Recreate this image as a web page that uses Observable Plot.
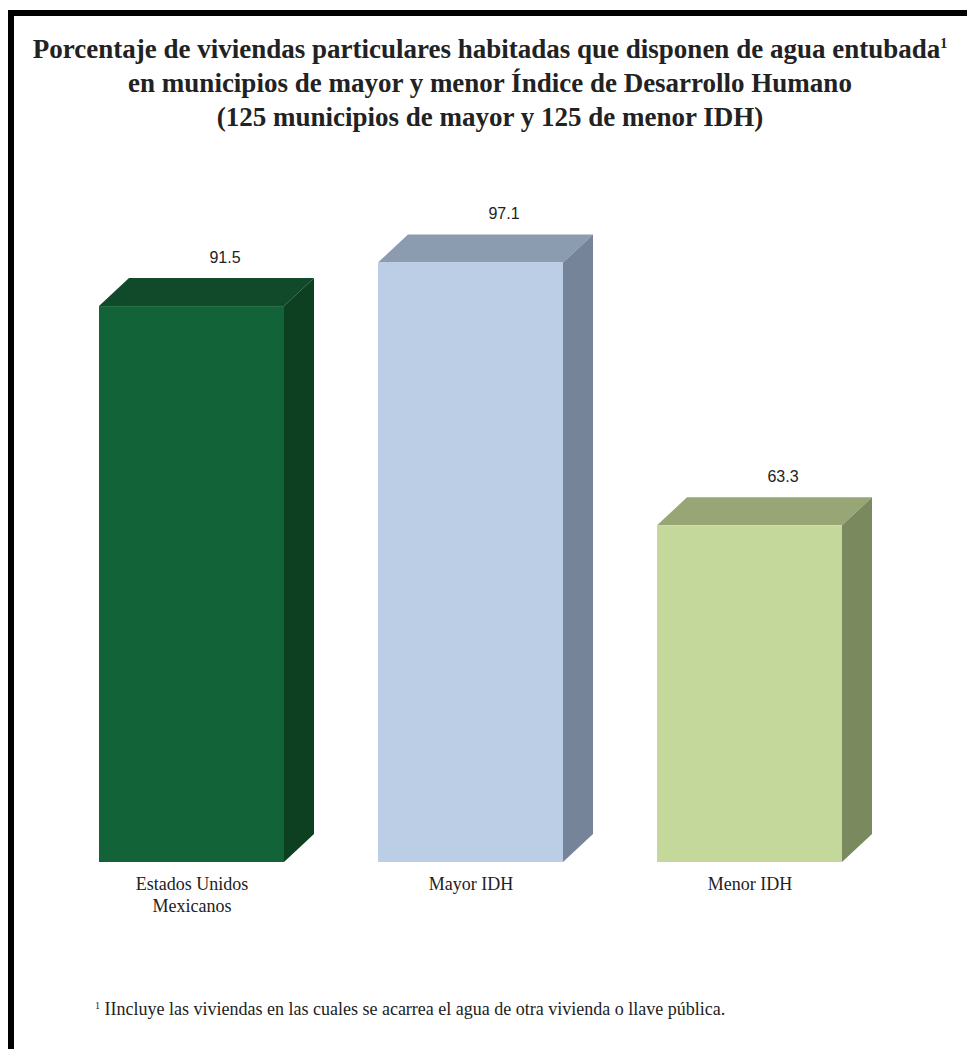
<!DOCTYPE html>
<html>
<head>
<meta charset="utf-8">
<script src="https://cdn.jsdelivr.net/npm/d3@7"></script>
<script src="https://cdn.jsdelivr.net/npm/@observablehq/plot@0.6"></script>
<style>
  html, body { margin: 0; padding: 0; background: #fff; }
  #wrap { position: relative; width: 967px; height: 1049px; overflow: hidden; background: #fff; }
  #bTop { position: absolute; left: 8px; top: 10px; width: 959px; height: 6px; background: #000; }
  #bLeft { position: absolute; left: 8px; top: 10px; width: 6px; height: 1039px; background: #000; }
  #title { position: absolute; left: 0; top: 32px; width: 980px; text-align: center;
    font-family: "Liberation Serif", serif; font-weight: bold; font-size: 27px; line-height: 34px; color: #222; }
  #title sup { font-size: 14px; vertical-align: 10px; line-height: 0; }
  #foot { position: absolute; left: 95px; top: 999px; font-family: "Liberation Serif", serif; font-size: 18px; color: #222; white-space: nowrap; }
  #foot sup { font-size: 10px; vertical-align: 6px; line-height: 0; }
  #plot { position: absolute; left: 0; top: 0; }
</style>
</head>
<body>
<div id="wrap">
  <div id="bTop"></div>
  <div id="bLeft"></div>
  <div id="title">Porcentaje de viviendas particulares habitadas que disponen de agua entubada<sup>1</sup><br>en municipios de mayor y menor Índice de Desarrollo Humano<br>(125 municipios de mayor y 125 de menor IDH)</div>
  <div id="plot"></div>
  <div id="foot"><sup>1</sup> IIncluye las viviendas en las cuales se acarrea el agua de otra vivienda o llave pública.</div>
</div>
<script>
const categories = ["Estados Unidos\nMexicanos", "Mayor IDH", "Menor IDH"];
const values = [91.5, 97.1, 63.3];
const frontColors = ["#136339", "#bccee6", "#c5d89b"];
const topColors = ["#114a2b", "#8b9bb0", "#98a676"];
const sideColors = ["#0c4021", "#76849a", "#7b8a5e"];

const data = categories.map((c, i) => ({
  cat: c, value: values[i], front: frontColors[i], top: topColors[i], side: sideColors[i]
}));

const DX = 30, DY = 28, BASE = 20;

function depthFaces(index, scales, values, dimensions) {
  const ns = "http://www.w3.org/2000/svg";
  const g = document.createElementNS(ns, "g");
  const x = scales.x, y = scales.y;
  const bw = x.bandwidth ? x.bandwidth() : 186;
  for (const d of data) {
    const x0 = x(d.cat), x1 = x0 + bw;
    const yt = y(d.value), yb = y(BASE);
    const top = document.createElementNS(ns, "polygon");
    top.setAttribute("points", [[x0, yt], [x0 + DX, yt - DY], [x1 + DX, yt - DY], [x1, yt]].map(p => p.join(",")).join(" "));
    top.setAttribute("fill", d.top);
    g.appendChild(top);
    const side = document.createElementNS(ns, "polygon");
    side.setAttribute("points", [[x1, yt], [x1 + DX, yt - DY], [x1 + DX, yb - DY], [x1, yb]].map(p => p.join(",")).join(" "));
    side.setAttribute("fill", d.side);
    g.appendChild(side);
  }
  return g;
}

const plot = Plot.plot({
  width: 967,
  height: 1049,
  marginLeft: 98,
  marginRight: 124,
  marginTop: 240,
  marginBottom: 187,
  x: { type: "band", domain: categories, paddingInner: 0.336, paddingOuter: 0, axis: null },
  y: { domain: [BASE, 100], axis: null },
  marks: [
    depthFaces,
    Plot.rectY(data, { x: "cat", y1: BASE, y2: "value", fill: "front" }),
    Plot.text(data, { x: "cat", y: "value", text: d => d.value.toFixed(1), dx: 33, dy: -49,
      fontFamily: "Liberation Sans, Arial, sans-serif", fontSize: 16, fill: "#222" }),
    Plot.text(data, { x: "cat", y: BASE, text: "cat", dy: 12, lineAnchor: "top", lineHeight: 1.22,
      fontFamily: "Liberation Serif, serif", fontSize: 18, fill: "#222" })
  ]
});
plot.style.background = "transparent";
document.getElementById("plot").appendChild(plot);
</script>
</body>
</html>
